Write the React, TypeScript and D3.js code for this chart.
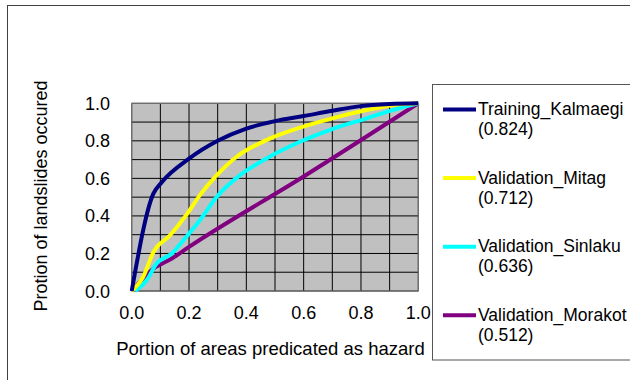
import { useRef, useEffect } from "react";
import * as d3 from "d3";

// ROC-like success/prediction rate curves
const kalmaegiX = [0, 0.076, 0.105, 0.2, 0.3, 0.4, 0.5, 0.6, 0.7, 0.8, 0.9, 1];
const kalmaegiY = [0, 0.52, 0.58, 0.705, 0.8, 0.865, 0.905, 0.932, 0.96, 0.985, 0.996, 1];

const mitagX = [0, 0.04, 0.076, 0.134, 0.19, 0.238, 0.297, 0.366, 0.47, 0.587, 0.7, 0.82, 0.91, 1];
const mitagY = [0, 0.075, 0.208, 0.297, 0.404, 0.511, 0.617, 0.715, 0.804, 0.87, 0.92, 0.964, 0.99, 1];

const sinlakuX = [0.012, 0.052, 0.087, 0.14, 0.19, 0.238, 0.297, 0.378, 0.47, 0.587, 0.7, 0.82, 0.91, 1];
const sinlakuY = [0, 0.057, 0.146, 0.2, 0.288, 0.377, 0.502, 0.617, 0.706, 0.795, 0.863, 0.92, 0.964, 1];

const morakotX = [0, 0.076, 0.14, 0.2, 0.6, 1];
const morakotY = [0, 0.119, 0.173, 0.235, 0.61, 1];

const seriesNames = ["Training_Kalmaegi", "Validation_Mitag", "Validation_Sinlaku", "Validation_Morakot"];
const seriesAuc = ["(0.824)", "(0.712)", "(0.636)", "(0.512)"];
const seriesColors = ["#000080", "#FFFF00", "#00FFFF", "#800080"];

const tickValues = [0, 0.2, 0.4, 0.6, 0.8, 1.0];
const gridValues = d3.range(0, 11).map((i) => i / 10);

const xTitle = "Portion of areas predicated as hazard";
const yTitle = "Protion of landslides occured";

export default function App() {
  const svgRef = useRef<SVGSVGElement>(null);

  useEffect(() => {
    const w = 630;
    const h = 380;
    const font = "'Liberation Sans', Arial, sans-serif";
    const svg = d3.select(svgRef.current).attr("width", w).attr("height", h);
    svg.selectAll("*").remove();

    svg.append("rect").attr("width", w).attr("height", h).attr("fill", "#fff");

    // outer frame (runs off the right and bottom)
    svg
      .append("rect")
      .attr("x", 7.5)
      .attr("y", 5.5)
      .attr("width", 700)
      .attr("height", 500)
      .attr("fill", "none")
      .attr("stroke", "#404040");

    // scales
    const x = d3.scaleLinear().domain([0, 1]).range([131.7, 418.3]);
    const y = d3.scaleLinear().domain([0, 1]).range([291, 103.3]);

    // plot background
    svg
      .append("rect")
      .attr("x", x(0))
      .attr("y", y(1))
      .attr("width", x(1) - x(0))
      .attr("height", y(0) - y(1))
      .attr("fill", "#C0C0C0");

    // grid
    const grid = svg.append("g").attr("stroke", "#000").attr("stroke-width", 1);
    grid
      .selectAll(".vx")
      .data(gridValues)
      .join("line")
      .attr("x1", (d) => x(d))
      .attr("x2", (d) => x(d))
      .attr("y1", y(0))
      .attr("y2", y(1));
    grid
      .selectAll(".hy")
      .data(gridValues)
      .join("line")
      .attr("x1", x(0))
      .attr("x2", x(1))
      .attr("y1", (d) => y(d))
      .attr("y2", (d) => y(d));

    svg
      .append("rect")
      .attr("x", x(0))
      .attr("y", y(1))
      .attr("width", x(1) - x(0))
      .attr("height", y(0) - y(1))
      .attr("fill", "none")
      .attr("stroke", "#808080");

    // tick labels
    svg
      .append("g")
      .selectAll("text")
      .data(tickValues)
      .join("text")
      .attr("x", 110)
      .attr("y", (d) => y(d) + 6.5)
      .attr("text-anchor", "end")
      .attr("font-family", font)
      .attr("font-size", 18)
      .text((d) => d.toFixed(1));

    svg
      .append("g")
      .selectAll("text")
      .data(tickValues)
      .join("text")
      .attr("x", (d) => x(d))
      .attr("y", 319)
      .attr("text-anchor", "middle")
      .attr("font-family", font)
      .attr("font-size", 18)
      .text((d) => d.toFixed(1));

    // axis titles
    svg
      .append("text")
      .attr("x", 270.5)
      .attr("y", 355)
      .attr("text-anchor", "middle")
      .attr("font-family", font)
      .attr("font-size", 18.5)
      .text(xTitle);

    svg
      .append("text")
      .attr("transform", "translate(46.5,196) rotate(-90)")
      .attr("text-anchor", "middle")
      .attr("font-family", font)
      .attr("font-size", 18)
      .text(yTitle);

    // curves
    const allX = [kalmaegiX, mitagX, sinlakuX, morakotX];
    const allY = [kalmaegiY, mitagY, sinlakuY, morakotY];
    const line = d3
      .line<[number, number]>()
      .x((d) => x(d[0]))
      .y((d) => y(d[1]))
      .curve(d3.curveMonotoneX);

    const plotArea = svg.append("g");
    [3, 2, 1, 0].forEach((i) => {
      const pts = allX[i].map((v, j) => [v, allY[i][j]] as [number, number]);
      plotArea
        .append("path")
        .attr("d", line(pts))
        .attr("fill", "none")
        .attr("stroke", seriesColors[i])
        .attr("stroke-width", 4)
        .attr("stroke-linejoin", "round");
    });

    // legend
    svg
      .append("rect")
      .attr("x", 432.5)
      .attr("y", 84.5)
      .attr("width", 300)
      .attr("height", 275.5)
      .attr("fill", "#fff")
      .attr("stroke", "#555");

    const legend = svg
      .append("g")
      .selectAll("g")
      .data(seriesNames)
      .join("g")
      .attr("transform", (d, i) => `translate(0, ${115 + i * 68.6})`);

    legend
      .append("line")
      .attr("x1", 443)
      .attr("x2", 476)
      .attr("y1", -5.5)
      .attr("y2", -5.5)
      .attr("stroke", (d, i) => seriesColors[i])
      .attr("stroke-width", 4);

    legend
      .append("text")
      .attr("x", 478)
      .attr("y", 0)
      .attr("font-family", font)
      .attr("font-size", 17.5)
      .text((d) => d);

    legend
      .append("text")
      .attr("x", 478)
      .attr("y", 20)
      .attr("font-family", font)
      .attr("font-size", 17.5)
      .text((d, i) => seriesAuc[i]);
  }, []);

  return (
    <svg
      ref={svgRef}
      style={{ position: "absolute", left: 0, top: 0, display: "block" }}
    ></svg>
  );
}
